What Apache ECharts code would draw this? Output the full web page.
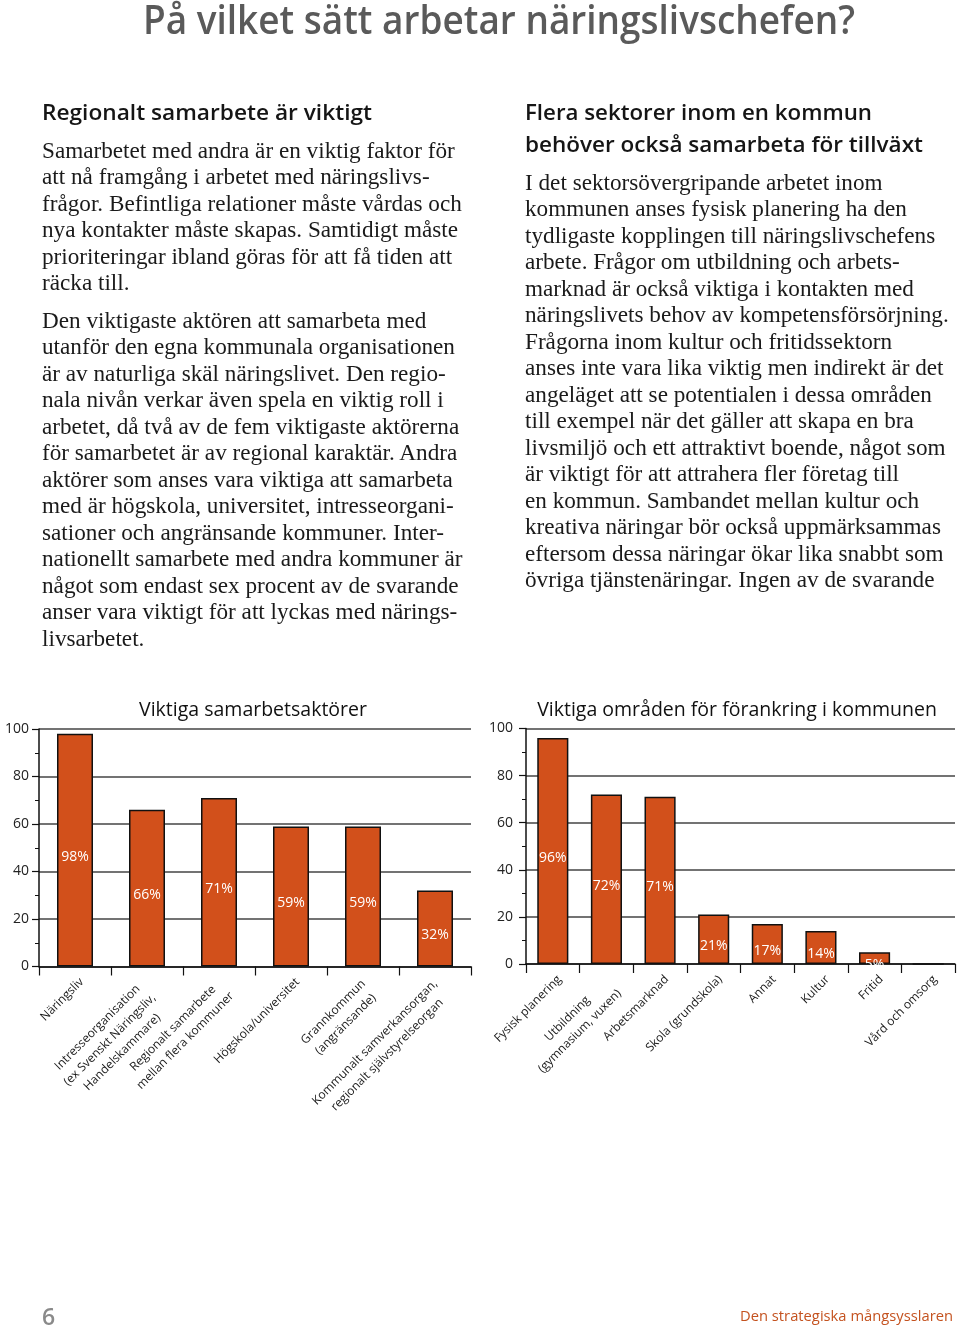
<!DOCTYPE html>
<html><head><meta charset="utf-8">
<script src="https://cdn.jsdelivr.net/npm/echarts@6/dist/echarts.min.js"></script>
<style>
html,body{margin:0;padding:0;background:#fff;}
#page{position:relative;width:960px;height:1327px;overflow:hidden;background:#fff;}
#chart{position:absolute;left:0;top:0;width:960px;height:1327px;}
.ln{position:absolute;white-space:pre;transform-origin:0 0;margin:0;padding:0;}
</style></head>
<body><div id="page"><div id="chart"></div></div>
<script>
// ---------- DATA ----------
const leftTitle = 'Viktiga samarbetsaktörer';
const leftCategories = [
  'Näringsliv',
  'Intresseorganisation\n(ex Svenskt Näringsliv,\nHandelskammare)',
  'Regionalt samarbete\nmellan flera kommuner',
  'Högskola/universitet',
  'Grannkommun\n(angränsande)',
  'Kommunalt samverkansorgan,\nregionalt självstyrelseorgan'
];
const leftValues = [98, 66, 71, 59, 59, 32];

const rightTitle = 'Viktiga områden för förankring i kommunen';
const rightCategories = [
  'Fysisk planering',
  'Utbildning\n(gymnasium, vuxen)',
  'Arbetsmarknad',
  'Skola (grundskola)',
  'Annat',
  'Kultur',
  'Fritid',
  'Vård och omsorg'
];
const rightValues = [96, 72, 71, 21, 17, 14, 5, 0];

const pageTitle = 'På vilket sätt arbetar näringslivschefen?';
const leftHeading = ['Regionalt samarbete är viktigt'];
const leftPara1 = [
  'Samarbetet med andra är en viktig faktor för',
  'att nå framgång i arbetet med näringslivs-',
  'frågor. Befintliga relationer måste vårdas och',
  'nya kontakter måste skapas. Samtidigt måste',
  'prioriteringar ibland göras för att få tiden att',
  'räcka till.'
];
const leftPara2 = [
  'Den viktigaste aktören att samarbeta med',
  'utanför den egna kommunala organisationen',
  'är av naturliga skäl näringslivet. Den regio-',
  'nala nivån verkar även spela en viktig roll i',
  'arbetet, då två av de fem viktigaste aktörerna',
  'för samarbetet är av regional karaktär. Andra',
  'aktörer som anses vara viktiga att samarbeta',
  'med är högskola, universitet, intresseorgani-',
  'sationer och angränsande kommuner. Inter-',
  'nationellt samarbete med andra kommuner är',
  'något som endast sex procent av de svarande',
  'anser vara viktigt för att lyckas med närings-',
  'livsarbetet.'
];
const rightHeading = [
  'Flera sektorer inom en kommun',
  'behöver också samarbeta för tillväxt'
];
const rightPara = [
  'I det sektorsövergripande arbetet inom',
  'kommunen anses fysisk planering ha den',
  'tydligaste kopplingen till näringslivschefens',
  'arbete. Frågor om utbildning och arbets-',
  'marknad är också viktiga i kontakten med',
  'näringslivets behov av kompetensförsörjning.',
  'Frågorna inom kultur och fritidssektorn',
  'anses inte vara lika viktig men indirekt är det',
  'angeläget att se potentialen i dessa områden',
  'till exempel när det gäller att skapa en bra',
  'livsmiljö och ett attraktivt boende, något som',
  'är viktigt för att attrahera fler företag till',
  'en kommun. Sambandet mellan kultur och',
  'kreativa näringar bör också uppmärksammas',
  'eftersom dessa näringar ökar lika snabbt som',
  'övriga tjänstenäringar. Ingen av de svarande'
];
const pageNumber = '6';
const footerText = 'Den strategiska mångsysslaren';

// ---------- TEXT LAYOUT (HTML) ----------
const page = document.getElementById('page');
function baselineOffset(font, lh) {
  const d = document.createElement('div');
  d.className = 'ln'; d.style.font = font; d.style.lineHeight = lh + 'px';
  d.style.visibility = 'hidden';
  d.textContent = 'Hx';
  const s = document.createElement('span');
  s.style.display = 'inline-block'; s.style.width = '0px'; s.style.height = '0px';
  s.style.verticalAlign = 'baseline';
  d.appendChild(s);
  page.appendChild(d);
  const off = s.getBoundingClientRect().top - d.getBoundingClientRect().top;
  page.removeChild(d);
  return off;
}
function addLines(lines, x, baseline, pitch, font, color, widths) {
  const lh = Math.round(pitch);
  const off = baselineOffset(font, lh);
  lines.forEach((t, i) => {
    const d = document.createElement('div');
    d.className = 'ln';
    d.style.font = font; d.style.lineHeight = lh + 'px'; d.style.color = color;
    d.style.left = x + 'px';
    d.style.top = (baseline + i * pitch - off) + 'px';
    d.textContent = t;
    page.appendChild(d);
    if (widths && widths[i]) {
      const w = d.getBoundingClientRect().width;
      d.style.transform = 'scaleX(' + (widths[i] / w) + ')';
    }
  });
}
const serif = '23.2px "Liberation Serif", "DejaVu Serif", serif';
addLines([pageTitle], 143, 34, 44, '600 40px "Open Sans", sans-serif', '#5a5a5a', [712]);
addLines(leftHeading, 42, 120, 30, '600 21px "Open Sans", sans-serif', '#151515', [330]);
addLines(leftPara1, 42, 157.5, 26.5, serif, '#1a1a1a');
addLines(leftPara2, 42, 327.5, 26.5, serif, '#1a1a1a');
addLines(rightHeading, 525, 120, 31.7, '600 21px "Open Sans", sans-serif', '#151515', [347, 398]);
addLines(rightPara, 525, 189.5, 26.5, serif, '#1a1a1a');
addLines([pageNumber], 42, 1325, 26, '600 23px "Open Sans", sans-serif', '#8a8a8a');
addLines([footerText], 740, 1321, 20, '15px "Open Sans", sans-serif', '#C4521F', [213]);

// ---------- CHART ----------
const barColor = '#D2501B';
const font = 'Open Sans';
function centeredLines(v) {
  return v.split('\n').map(l => '{c|' + l + '}').join('\n');
}
// multi-line labels hang lower: shift each extra line ~8px straight down
function catItems(cats) {
  return cats.map(c => {
    const extra = c.split('\n').length - 1;
    const e = extra * 5.66;
    return { value: c, textStyle: { padding: [13 + 2 * e, -3 + e, 0, 0] } };
  });
}
function xAxisCfg(cats, gridIndex) {
  return {
    type: 'category', gridIndex, data: catItems(cats),
    axisLine: { show: true, lineStyle: { color: '#111', width: 1.5 } },
    axisTick: { show: true, length: 9, lineStyle: { color: '#111', width: 1.2 } },
    splitLine: { show: false },
    axisLabel: {
      interval: 0, rotate: 45, margin: 11, padding: [13, -3, 0, 0],
      color: '#1a1a1a', fontFamily: font, fontSize: 12, lineHeight: 17.5,
      formatter: centeredLines,
      rich: { c: { align: 'center', color: '#1a1a1a', fontFamily: font, fontSize: 12, lineHeight: 17.5 } }
    }
  };
}
function yAxisCfg(gridIndex, margin) {
  return {
    type: 'value', gridIndex, min: 0, max: 100, interval: 20,
    axisLine: { show: true, lineStyle: { color: '#111', width: 1.5 } },
    axisTick: { show: true, length: 7, lineStyle: { color: '#111', width: 1.2 } },
    minorTick: { show: true, splitNumber: 2, length: 4, lineStyle: { color: '#111', width: 1 } },
    splitLine: { show: true, lineStyle: { color: '#444', width: 1.5 } },
    axisLabel: { color: '#222', fontFamily: font, fontSize: 14, margin: margin }
  };
}
function barSeries(values, idx, width) {
  return {
    type: 'bar', xAxisIndex: idx, yAxisIndex: idx, data: values, barWidth: width,
    itemStyle: { color: barColor, borderColor: '#111', borderWidth: 1.5 },
    label: {
      show: true, position: 'inside', offset: [0, 7], color: '#fff',
      fontFamily: font, fontSize: 14,
      formatter: p => (p.value > 0 ? p.value + '%' : '')
    }
  };
}
const chart = echarts.init(document.getElementById('chart'), null, { renderer: 'canvas' });
chart.setOption({
  animation: false,
  backgroundColor: 'transparent',
  title: [
    { text: leftTitle, left: 248, top: 695, textAlign: 'center',
      textStyle: { fontFamily: font, fontSize: 19.5, fontWeight: 'normal', color: '#111' } },
    { text: rightTitle, left: 732, top: 695, textAlign: 'center',
      textStyle: { fontFamily: font, fontSize: 19.5, fontWeight: 'normal', color: '#111' } }
  ],
  grid: [
    { left: 39, top: 729, width: 432, height: 237.5 },
    { left: 526, top: 728.5, width: 429, height: 235.5 }
  ],
  xAxis: [xAxisCfg(leftCategories, 0), xAxisCfg(rightCategories, 1)],
  yAxis: [yAxisCfg(0, 10), yAxisCfg(1, 13)],
  series: [barSeries(leftValues, 0, '50%'), barSeries(rightValues, 1, '58%')]
});
</script>
</body></html>
